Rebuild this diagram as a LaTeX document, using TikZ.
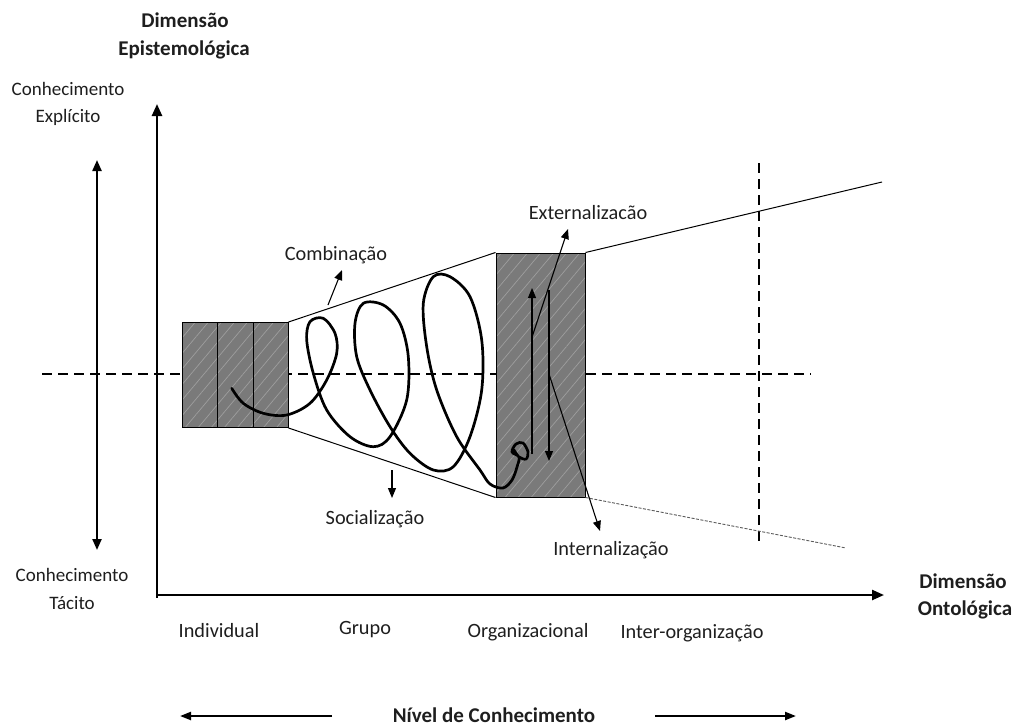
\documentclass[tikz,border=0pt]{standalone}
\usepackage{fontspec}
\setmainfont{Carlito}
\usetikzlibrary{arrows.meta,patterns.meta}
\definecolor{boxgray}{RGB}{122,122,122}
\definecolor{hatchgray}{RGB}{158,158,158}
\definecolor{ink}{RGB}{30,30,30}
\begin{document}
\begin{tikzpicture}[x=1pt,y=-1pt,
  side/.style={font=\fontsize{19}{23}\selectfont, inner sep=0pt, anchor=base, text=ink},
  lbl/.style={font=\fontsize{20.3}{24}\selectfont, inner sep=0pt, anchor=base, text=ink},
  head/.style={font=\fontsize{21}{26}\selectfont\bfseries, inner sep=0pt, anchor=base, text=ink},
  axisline/.style={line width=2.4pt, -{Triangle[length=12pt,width=10pt]}},
  bothway/.style={line width=2.2pt, {Triangle[length=11pt,width=9pt]}-{Triangle[length=11pt,width=9pt]}},
  flow/.style={line width=1.1pt, -{Triangle[length=10pt,width=8pt]}},
  guide/.style={line width=2.4pt, dash pattern=on 10pt off 6pt},
  cell/.style={draw=black, line width=1pt, inner sep=0pt,
    preaction={fill=boxgray},
    pattern={Lines[angle=50,distance=10pt,line width=0.7pt]}, pattern color=hatchgray},
  spiral/.style={line width=2.7pt, line join=round, line cap=round}
]
\useasboundingbox (0,0) rectangle (1014,726);

% axes
\coordinate (ytip) at (157,104);
\coordinate (xtip) at (884,595);
\draw[line width=2.4pt] (157,595) -- (157,598);
\draw[axisline] (157,596.5) -- (ytip);
\draw[axisline] (156,595) -- (xtip);

% tacit / explicit double arrow
\coordinate (exptop) at (97,160);
\coordinate (tacbot) at (97,550);
\draw[bothway] (tacbot) -- (exptop);

% dashed guides
\coordinate (hl) at (42,374);
\coordinate (hr) at (811,374);
\coordinate (vt) at (759,163);
\coordinate (vb) at (759,547);
\draw[guide] (hl) -- (hr);
\draw[guide] (vt) -- (vb);

% individual box in three cells
\node[cell, minimum width=35pt, minimum height=105pt] (c1) at (199.5,375) {};
\node[cell, minimum width=36pt, minimum height=105pt] (c2) at (235,375) {};
\node[cell, minimum width=35pt, minimum height=105pt] (c3) at (270.5,375) {};
% organizational box
\node[cell, minimum width=89pt, minimum height=244pt] (org) at (540.5,375) {};

% widening cone
\coordinate (farup) at (882,182);
\coordinate (fardown) at (846,548);
\draw[line width=1pt] (c3.north east) -- (org.north west);
\draw[line width=1pt] (c3.south east) -- (org.south west);
\draw[line width=1pt] (org.north east) -- (farup);
\draw[line width=0.9pt, gray!70!black, dash pattern=on 3pt off 1.5pt] (org.south east) -- (fardown);

% knowledge spiral
\draw[spiral] plot[smooth, tension=0.55] coordinates {
 (231.7,388.3) (243.3,403.3) (263.3,413.3) (286.7,415) (310,403.3) (326.7,380)
 (336.7,353.3) (335,333.3) (323.3,318.3) (310,321.7) (306.7,340) (313.3,373.3)
 (326.7,410) (350,436.7) (373.3,446.7) (390,436.7) (406.7,400) (408.3,356.7)
 (400,323.3) (383.3,305) (363.3,303.3) (355,323.3) (356.7,356.7) (370,390)
 (390,426.7) (410,453.3) (433.3,470) (453.3,466.7) (470,436.7) (481.7,390)
 (481.7,340) (470,296.7) (450,276.7) (433.3,276.7) (423.3,303.3) (426.7,346.7)
 (436.7,390) (456.7,436.7) (480,470) (490,484) (503,488) (512,480) (517,467)
 (519,457) (512,452) (516,444) (523,443) (528,452) (526,459) (519,457) (514,450)};

% conversion arrows
\coordinate (combA) at (328,305);
\coordinate (combB) at (342,270);
\draw[flow] (combA) -- (combB);
\coordinate (socA) at (392,470);
\coordinate (socB) at (392,498);
\draw[flow] (socA) -- (socB);
\coordinate (upA) at (532,454);
\coordinate (upB) at (532,288);
\draw[flow] (upA) -- (upB);
\coordinate (dnA) at (549,290);
\coordinate (dnB) at (549,461);
\draw[flow] (dnA) -- (dnB);
\coordinate (extA) at (532,337);
\coordinate (extB) at (568,229);
\draw[flow] (extA) -- (extB);
\coordinate (intA) at (549,374);
\coordinate (intB) at (600,531);
\draw[flow] (intA) -- (intB);

% axis titles
\node[head] (epi1) at (185,27) {Dimensão};
\node[head] (epi2) at (184,55) {Epistemológica};
\node[head] (onto1) at (963,588) {Dimensão};
\node[head] (onto2) at (965,615) {Ontológica};
\node[side] (expl1) at (68,95) {Conhecimento};
\node[side] (expl2) at (68,122.5) {Explícito};
\node[side] (tac1) at (72,581) {Conhecimento};
\node[side] (tac2) at (72,609) {Tácito};

% conversion modes
\node[lbl] (comb) at (336,260.5) {Combinação};
\node[lbl] (soc) at (375,524) {Socialização};
\node[lbl] (ext) at (588,219) {Externalizacão};
\node[lbl] (int) at (611,555) {Internalização};

% ontological levels
\node[lbl] (lind) at (219,637) {Individual};
\node[lbl] (lgrp) at (365,634) {Grupo};
\node[lbl] (lorg) at (528,637) {Organizacional};
\node[lbl] (linter) at (692,638) {Inter-organização};

% knowledge level
\node[head] (nivel) at (494,722) {Nível de Conhecimento};
\coordinate (nl) at (180,716);
\coordinate (nr) at (796,716);
\draw[line width=2.2pt, -{Triangle[length=11pt,width=8pt]}] (332,716) -- (nl);
\draw[line width=2.2pt, -{Triangle[length=11pt,width=8pt]}] (655,716) -- (nr);
\end{tikzpicture}
\end{document}
